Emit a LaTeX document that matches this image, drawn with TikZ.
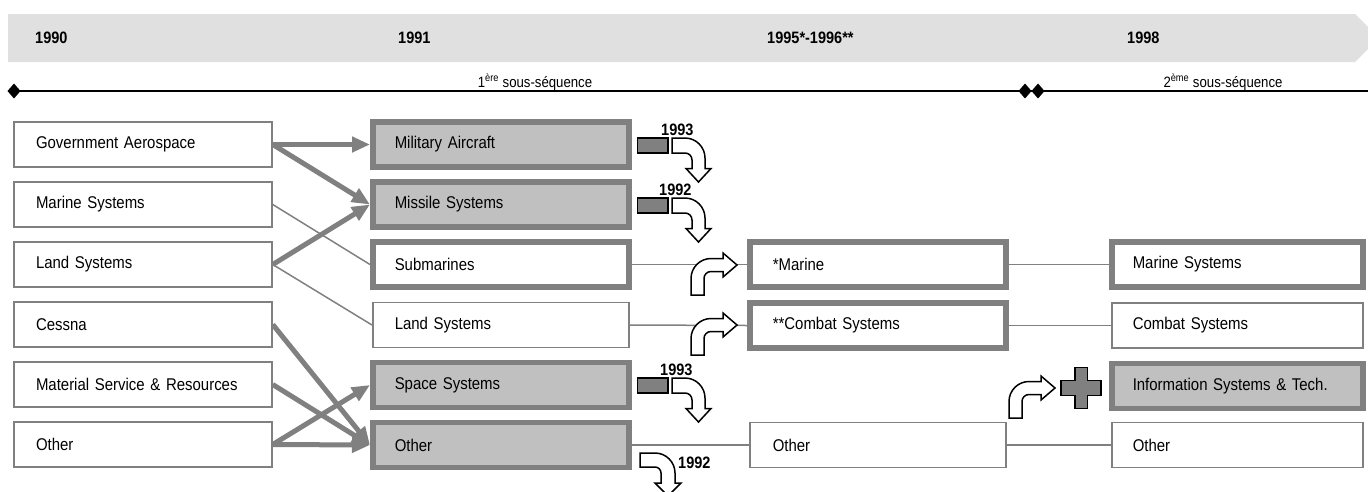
\documentclass[tikz,border=0pt]{standalone}
\usepackage{fontspec}
\setmainfont{Liberation Sans}[FakeStretch=0.88]
\usetikzlibrary{arrows.meta}
\definecolor{bgray}{HTML}{808080}
\definecolor{fgray}{HTML}{C0C0C0}
\definecolor{bannergray}{HTML}{E0E0E0}
\definecolor{rectgray}{HTML}{808080}
\tikzset{
  box/.style={draw=bgray, line width=1.5pt, fill=white, minimum height=45pt,
    inner ysep=0pt, anchor=west, align=left, font=\fontsize{17}{20}\selectfont},
  thickbox/.style={box, line width=5.5pt},
  shaded/.style={fill=fgray},
  colA/.style={text width=214pt, inner xsep=22pt},
  colB/.style={text width=212pt, inner xsep=22pt},
  colC/.style={text width=210pt, inner xsep=23pt},
  colD/.style={text width=209pt, inner xsep=21pt},
  fat/.style={draw=bgray, line width=5pt, -{Triangle[length=18pt,width=15pt]}},
  thinline/.style={draw=bgray, line width=1.5pt},
  yearlbl/.style={anchor=base west, inner sep=0pt, font=\fontsize{16.5}{18}\selectfont\bfseries},
  seqlbl/.style={anchor=base, inner sep=0pt, font=\fontsize{15}{17}\selectfont},
  bentshape/.style={draw=black, fill=white, line width=1.5pt, line join=miter},
  diam/.pic={\fill[black] (0,-7.5) -- (6.5,0) -- (0,7.5) -- (-6.5,0) -- cycle;},
  downturn/.pic={
    \draw[draw=black, fill=rectgray, line width=1.3pt] (-34.5,-6.5) rectangle (-4,8.5);
    \draw[bentshape] (0,-6.5) -- (13,-6.5) .. controls (24,-6.5) and (33,2.5) .. (33,13.5)
      -- (33,24) -- (39,24) -- (26.5,37.5) -- (14,24) -- (20,24) -- (20,15.5)
      .. controls (20,11.6) and (16.9,8.5) .. (13,8.5) -- (0,8.5) -- cycle;},
  turnright/.pic={
    \draw[bentshape] (0,30) -- (0,13.5) .. controls (0,2.5) and (9,-6.5) .. (20,-6.5)
      -- (32,-6.5) -- (32,-12) -- (46,0) -- (32,12) -- (32,6.5) -- (20,6.5)
      .. controls (16.1,6.5) and (13,9.6) .. (13,13.5) -- (13,30) -- cycle;}
}
\begin{document}
\begin{tikzpicture}[x=1pt,y=-1pt]
\useasboundingbox (0,0) rectangle (1368,491);
% banner
\fill[bannergray] (8,14) -- (1355,14) -- (1379,38) -- (1355,62) -- (8,62) -- cycle;
\node[yearlbl] (y90) at (35,43.3) {1990};
\node[yearlbl] (y91) at (398,43.3) {1991};
\node[yearlbl] (y95) at (767,43.3) {1995*-1996**};
\node[yearlbl] (y98) at (1127,43.3) {1998};
% timeline
\draw[line width=2.5pt] (14,91) -- (1368,91);
\pic at (14,91) {diam};
\pic at (1025,91) {diam};
\pic at (1038,91) {diam};
\node[seqlbl] (s1) at (535,87) {1\textsuperscript{ère} sous-séquence};
\node[seqlbl] (s2) at (1223,87) {2\textsuperscript{ème} sous-séquence};
% column 1
\node[box,colA] (g1) at (13.25,144.5) {Government Aerospace};
\node[box,colA] (g2) at (13.25,204.5) {Marine Systems};
\node[box,colA] (g3) at (13.25,264.5) {Land Systems};
\node[box,colA] (g4) at (13.25,324.5) {Cessna};
\node[box,colA] (g5) at (13.25,384.5) {Material Service \& Resources};
\node[box,colA] (g6) at (13.25,444.5) {Other};
% column 2
\node[thickbox,shaded,colB] (m1) at (370,144.5) {Military Aircraft};
\node[thickbox,shaded,colB] (m2) at (370,204.5) {Missile Systems};
\node[thickbox,colB] (m3) at (370,264.5) {Submarines};
\node[box,colB] (m4) at (372,325) {Land Systems};
\node[thickbox,shaded,colB] (m5) at (370,385) {Space Systems};
\node[thickbox,shaded,colB] (m6) at (370,445) {Other};
% column 3
\node[thickbox,colC] (n3) at (747,264.5) {*Marine};
\node[thickbox,colC] (n4) at (747,325.5) {**Combat Systems};
\node[box,colC] (n6) at (749,445) {Other};
% column 4
\node[thickbox,colD] (p3) at (1109,264.5) {Marine Systems};
\node[box,colD] (p4) at (1111,325.5) {Combat Systems};
\node[thickbox,shaded,colD] (p5) at (1109,386) {Information Systems \& Tech.};
\node[box,colD] (p6) at (1111,445) {Other};
% connectors
\draw[thinline] (g2.east) -- (m3.west);
\draw[thinline] (g3.east) -- (m4.west);
\draw[fat] (g1.east) -- (m1.west);
\draw[fat] (g1.east) -- (m2.west);
\draw[fat] (g3.east) -- (m2.west);
\draw[fat] (g4.east) -- (m6.west);
\draw[fat] (g5.east) -- (m6.west);
\draw[fat] (g6.east) -- (m5.west);
\draw[fat] (g6.east) -- (m6.west);
\draw[thinline] (m3.east) -- (n3.west);
\draw[thinline] (m4.east) -- (n4.west);
\draw[thinline] (m6.east) -- (n6.west);
\draw[thinline] (n3.east) -- (p3.west);
\draw[thinline] (n4.east) -- (p4.west);
\draw[thinline] (n6.east) -- (p6.west);
% split-off arrows
\pic at (672,144.5) {downturn};
\pic at (672,204.5) {downturn};
\pic at (672,384.5) {downturn};
\node[yearlbl] (d1) at (661,135) {1993};
\node[yearlbl] (d2) at (659,195) {1992};
\node[yearlbl] (d5) at (660,375) {1993};
\draw[bentshape] (640,453) -- (655,453) .. controls (666,453) and (675,462) .. (675,473)
  -- (675,483) -- (681,483) -- (668,496) -- (655,483) -- (661,483) -- (661,473)
  .. controls (661,469.7) and (658.3,467) .. (655,467) -- (640,467) -- cycle;
\node[yearlbl] (d6) at (678,468) {1992};
% turn arrows
\pic at (691,265) {turnright};
\pic at (691,325) {turnright};
\pic at (1009,388) {turnright};
% plus
\draw[draw=black, fill=rectgray, line width=1.5pt] (1074.75,367.5) -- (1087.25,367.5) -- (1087.25,380.5)
  -- (1101,380.5) -- (1101,395.5) -- (1087.25,395.5) -- (1087.25,408.5) -- (1074.75,408.5)
  -- (1074.75,395.5) -- (1061,395.5) -- (1061,380.5) -- (1074.75,380.5) -- cycle;
\end{tikzpicture}
\end{document}
